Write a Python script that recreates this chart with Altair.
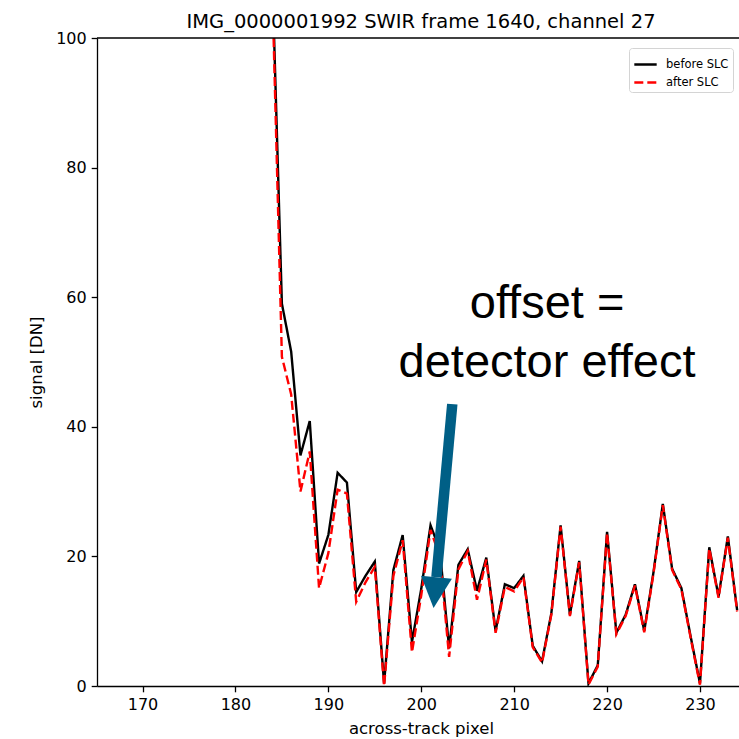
import altair as alt
import pandas as pd

# across-track pixel index
pixels = list(range(184, 235))

# signal before straylight correction (SLC)
before_slc = [108, 59.0, 51.6, 35.6, 40.9, 18.9, 23.3, 32.9, 31.4, 14.5,
              17.0, 19.2, 0.4, 17.9, 23.3, 6.8, 15.0, 24.8, 21.0, 5.8,
              18.7, 21.1, 14.7, 19.8, 8.5, 15.7, 15.1, 17.0, 6.2, 3.8,
              11.2, 24.8, 11.0, 19.3, 0.4, 3.2, 23.8, 8.2, 11.0, 15.7,
              8.5, 17.6, 28.1, 18.1, 15.1, 7.6, 0.4, 21.4, 13.8, 23.1, 11.7]

# signal after straylight correction (SLC)
after_slc = [106, 50.8, 45.0, 30.0, 36.2, 15.1, 20.5, 30.3, 29.7, 13.0,
             16.0, 18.4, 0.0, 17.0, 22.5, 5.2, 14.0, 24.1, 20.0, 4.5,
             18.0, 20.8, 13.3, 19.5, 8.2, 15.3, 14.6, 16.8, 6.0, 3.6,
             11.0, 24.6, 10.8, 19.1, 0.2, 3.0, 23.6, 8.0, 10.8, 15.5,
             8.3, 17.4, 27.9, 17.9, 14.9, 7.4, 0.2, 21.2, 13.6, 22.9, 11.5]

series_names = ["before SLC", "after SLC"]
series_colors = ["black", "red"]
series_dashes = [[1, 0], [9, 4]]

title_text = ["IMG_0000001992 SWIR frame 1640, channel 27"]

x_ticks = [170, 180, 190, 200, 210, 220, 230]
y_ticks = [0, 20, 40, 60, 80, 100]
x_domain = [165.1, 234.2]
y_domain = [0, 100]

# annotation (data units)
note_lines = ["offset =", "detector effect"]
note_x = [213.54, 213.54]
note_y = [56.8, 47.7]
arrow_x = [203.34]
arrow_y = [43.5]
arrow_x2 = [201.64]
arrow_y2 = [16.8]
head_x = [201.48]
head_y = [14.4]

df_b = pd.DataFrame({"pixel": pixels, "signal": before_slc, "series": series_names[0]})
df_a = pd.DataFrame({"pixel": pixels, "signal": after_slc, "series": series_names[1]})

xs = alt.Scale(domain=x_domain, nice=False, zero=False)
ys = alt.Scale(domain=y_domain, nice=False)
cscale = alt.Scale(domain=series_names, range=series_colors)
dscale = alt.Scale(domain=series_names, range=series_dashes)

legend = alt.Legend(
    title=None, orient="none", legendX=532, legendY=10,
    fillColor="white", strokeColor="#d4d4d4", cornerRadius=3, padding=4,
    symbolType="stroke", symbolSize=500, symbolStrokeWidth=2.3,
    labelFont="DejaVu Sans", labelFontSize=11.5, labelColor="black",
    labelOffset=8, rowPadding=-4,
)

xenc = alt.X("pixel:Q", scale=xs,
             axis=alt.Axis(values=x_ticks, title="across-track pixel",
                           titleX=324, titleY=47, titleBaseline="alphabetic",
                           labelPadding=5))
yenc = alt.Y("signal:Q", scale=ys,
             axis=alt.Axis(values=y_ticks, title="signal [DN]",
                           titleX=-56, titleY=324, titleAngle=-90,
                           titleBaseline="alphabetic", titleAlign="center",
                           labelPadding=5))

line_b = alt.Chart(df_b).mark_line(clip=True, strokeWidth=2.4).encode(
    x=xenc, y=yenc,
    color=alt.Color("series:N", scale=cscale, legend=legend),
    strokeDash=alt.StrokeDash("series:N", scale=dscale, legend=legend),
)
line_a = alt.Chart(df_a).mark_line(clip=True, strokeWidth=2.4).encode(
    x="pixel:Q", y="signal:Q",
    color=alt.Color("series:N", scale=cscale, legend=legend),
    strokeDash=alt.StrokeDash("series:N", scale=dscale, legend=legend),
)

top_rule = alt.Chart(pd.DataFrame({"v": [100]})).mark_rule(
    color="black", strokeWidth=1.3).encode(y="v:Q")

note_df = pd.DataFrame({"t": note_lines, "x": note_x, "y": note_y})
note = alt.Chart(note_df).mark_text(
    font="Liberation Sans", fontSize=47, align="center", baseline="alphabetic",
    color="black").encode(x="x:Q", y="y:Q", text="t:N")

arrow_df = pd.DataFrame({"x": arrow_x, "y": arrow_y, "x2": arrow_x2, "y2": arrow_y2})
shaft = alt.Chart(arrow_df).mark_rule(
    color="#005F86", strokeWidth=10.5, strokeCap="butt").encode(
    x="x:Q", y="y:Q", x2="x2:Q", y2="y2:Q")

head_df = pd.DataFrame({"x": head_x, "y": head_y})
head = alt.Chart(head_df).mark_point(
    shape="M-1,-1L1,-1L0,1Z", filled=True, size=961, angle=5.35,
    color="#005F86", opacity=1, strokeWidth=0).encode(x="x:Q", y="y:Q")

title = alt.Chart(pd.DataFrame({"t": title_text})).mark_text(
    font="DejaVu Sans", fontSize=19.5, align="center", baseline="alphabetic",
    color="black").encode(x=alt.value(324), y=alt.value(-10), text="t:N")

chart = alt.layer(line_b, line_a, top_rule, note, shaft, head, title).properties(
    width=642, height=648,
    padding={"left": 97, "top": 38, "right": 0, "bottom": 53},
    autosize=alt.AutoSizeParams(type="none"),
).configure_view(stroke=None).configure_axis(
    grid=False, domainColor="black", domainWidth=1.3, tickColor="black",
    tickWidth=1.3, tickSize=5.8, labelFont="DejaVu Sans", labelFontSize=16,
    labelColor="black", titleFont="DejaVu Sans", titleFontSize=16.5,
    titleFontWeight="normal", titleColor="black",
)

chart.save("out.html", embed_options={"renderer": "svg", "actions": False})
